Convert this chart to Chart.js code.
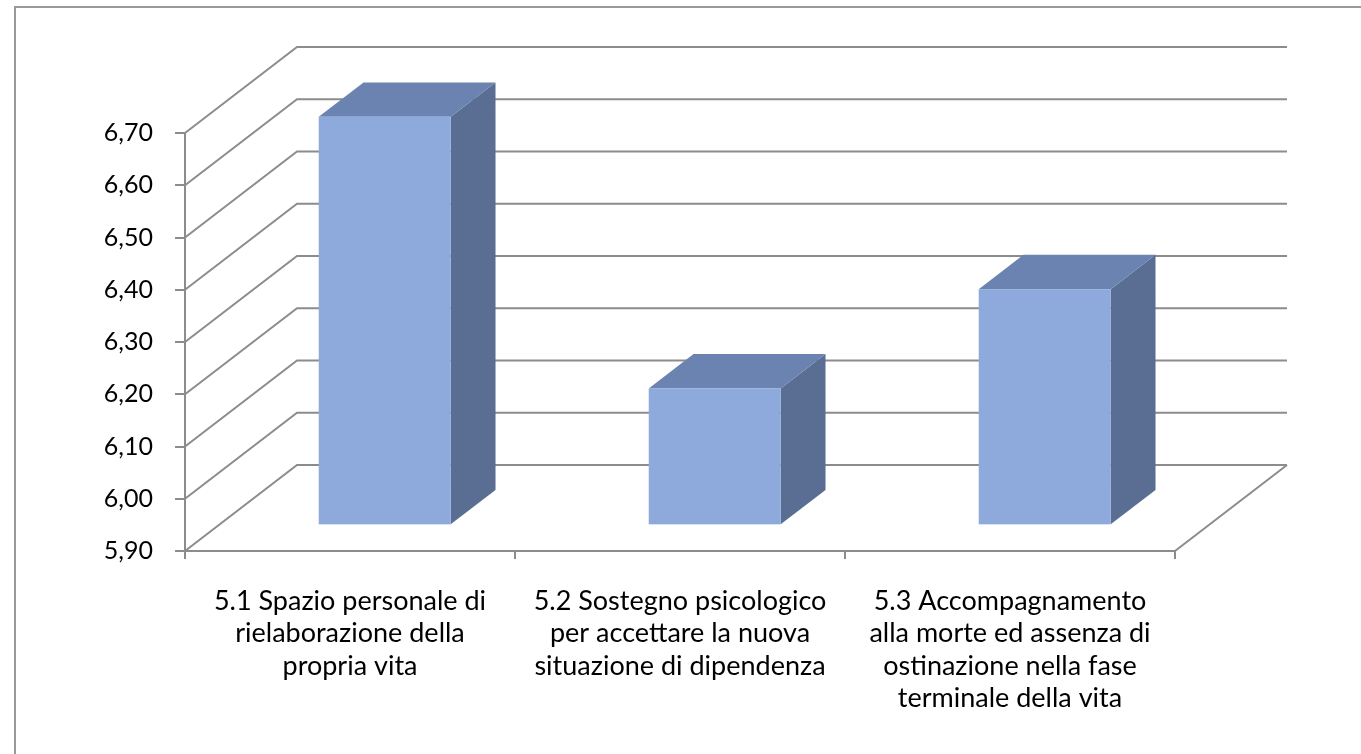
<!DOCTYPE html>
<html lang="it">
<head>
<meta charset="UTF-8">
<title>Grafico 5</title>
<script src="https://cdn.jsdelivr.net/npm/chart.js@4.4.1/dist/chart.umd.min.js"></script>
<style>
  html, body { margin: 0; padding: 0; background: #fff; }
  #wrap { width: 1361px; height: 754px; position: relative; }
</style>
</head>
<body>
<div id="wrap"><canvas id="chart"></canvas></div>
<script>
// data
const categories = [
    ['5.1 Spazio personale di', 'rielaborazione della', 'propria vita'],
    ['5.2 Sostegno psicologico', 'per accettare la nuova', 'situazione di dipendenza'],
    ['5.3 Accompagnamento', 'alla morte ed assenza di', 'ostinazione nella fase', 'terminale della vita']
];
const values = [6.68, 6.16, 6.35];
const yTickValues = [5.9, 6.0, 6.1, 6.2, 6.3, 6.4, 6.5, 6.6, 6.7];

// 3d look
const DEPTH_X = 112, DEPTH_Y = 86;
const BAR_FRONT = 0.31, BAR_BACK = 0.71;
const GRID = '#8c8c8c';
const FRONT = '#8eaadc', TOP = '#6b83b1', SIDE = '#5a6d93';

const fmt = v => v.toFixed(2).replace('.', ',');

const walls = {
    id: 'walls',
    beforeDraw(chart) {
        const ctx = chart.ctx;
        ctx.save();
        ctx.strokeStyle = '#9a9a9a';
        ctx.lineWidth = 2;
        ctx.strokeRect(15, 7, 2000, 2000);
        ctx.restore();
    },
    beforeDatasetsDraw(chart) {
        const ctx = chart.ctx, y = chart.scales.y, a = chart.chartArea;
        ctx.save();
        ctx.strokeStyle = GRID;
        ctx.lineWidth = 2;
        ctx.beginPath();
        yTickValues.forEach(v => {
            const py = y.getPixelForValue(v);
            ctx.moveTo(a.left, py);
            ctx.lineTo(a.left + DEPTH_X, py - DEPTH_Y);
            ctx.lineTo(a.right + DEPTH_X, py - DEPTH_Y);
        });
        // right edge of the floor
        ctx.moveTo(a.right, a.bottom);
        ctx.lineTo(a.right + DEPTH_X, a.bottom - DEPTH_Y);
        ctx.stroke();
        ctx.restore();
    },
    afterDatasetsDraw(chart) {
        const ctx = chart.ctx, y = chart.scales.y;
        const meta = chart.getDatasetMeta(0);
        const base = y.getPixelForValue(yTickValues[0]);
        ctx.save();
        meta.data.forEach((bar, i) => {
            const fx = DEPTH_X * BAR_FRONT, fy = -DEPTH_Y * BAR_FRONT;
            const dx = DEPTH_X * (BAR_BACK - BAR_FRONT), dy = -DEPTH_Y * (BAR_BACK - BAR_FRONT);
            const l = bar.x - bar.width / 2 + fx, r = bar.x + bar.width / 2 + fx;
            const t = y.getPixelForValue(values[i]) + fy, b = base + fy;
            // side
            ctx.fillStyle = SIDE;
            ctx.beginPath();
            ctx.moveTo(r, t); ctx.lineTo(r + dx, t + dy); ctx.lineTo(r + dx, b + dy); ctx.lineTo(r, b);
            ctx.closePath(); ctx.fill();
            // top
            ctx.fillStyle = TOP;
            ctx.beginPath();
            ctx.moveTo(l, t); ctx.lineTo(l + dx, t + dy); ctx.lineTo(r + dx, t + dy); ctx.lineTo(r, t);
            ctx.closePath(); ctx.fill();
            // front
            ctx.fillStyle = FRONT;
            ctx.fillRect(l, t, r - l, b - t);
        });
        ctx.restore();
    }
};

new Chart(document.getElementById('chart'), {
    type: 'bar',
    data: {
        labels: categories,
        datasets: [{
            data: values,
            backgroundColor: 'rgba(0,0,0,0)',
            categoryPercentage: 1,
            barPercentage: 0.4
        }]
    },
    options: {
        responsive: true,
        maintainAspectRatio: false,
        animation: false,
        layout: { padding: { top: 133, right: 186, left: 0, bottom: 0 } },
        plugins: { legend: { display: false }, tooltip: { enabled: false } },
        scales: {
            y: {
                min: 5.9,
                max: 6.7,
                afterBuildTicks: s => { s.ticks = yTickValues.map(v => ({ value: v })); },
                afterFit: s => { s.width = 185; },
                border: { display: true, color: GRID, width: 2 },
                grid: { drawOnChartArea: false, drawTicks: true, tickLength: 10, color: GRID, lineWidth: 2 },
                ticks: {
                    callback: v => fmt(v),
                    padding: 22,
                    color: '#000',
                    font: { family: 'Lato', size: 25 }
                }
            },
            x: {
                afterFit: s => { s.height = 203; },
                border: { display: true, color: GRID, width: 2 },
                grid: { drawOnChartArea: false, drawTicks: true, tickLength: 8, color: GRID, lineWidth: 2, offset: true },
                ticks: {
                    autoSkip: false,
                    maxRotation: 0,
                    minRotation: 0,
                    padding: 26,
                    color: '#000',
                    font: { family: 'Lato', size: 27, lineHeight: 1.2 }
                }
            }
        }
    },
    plugins: [walls]
});
</script>
</body>
</html>
